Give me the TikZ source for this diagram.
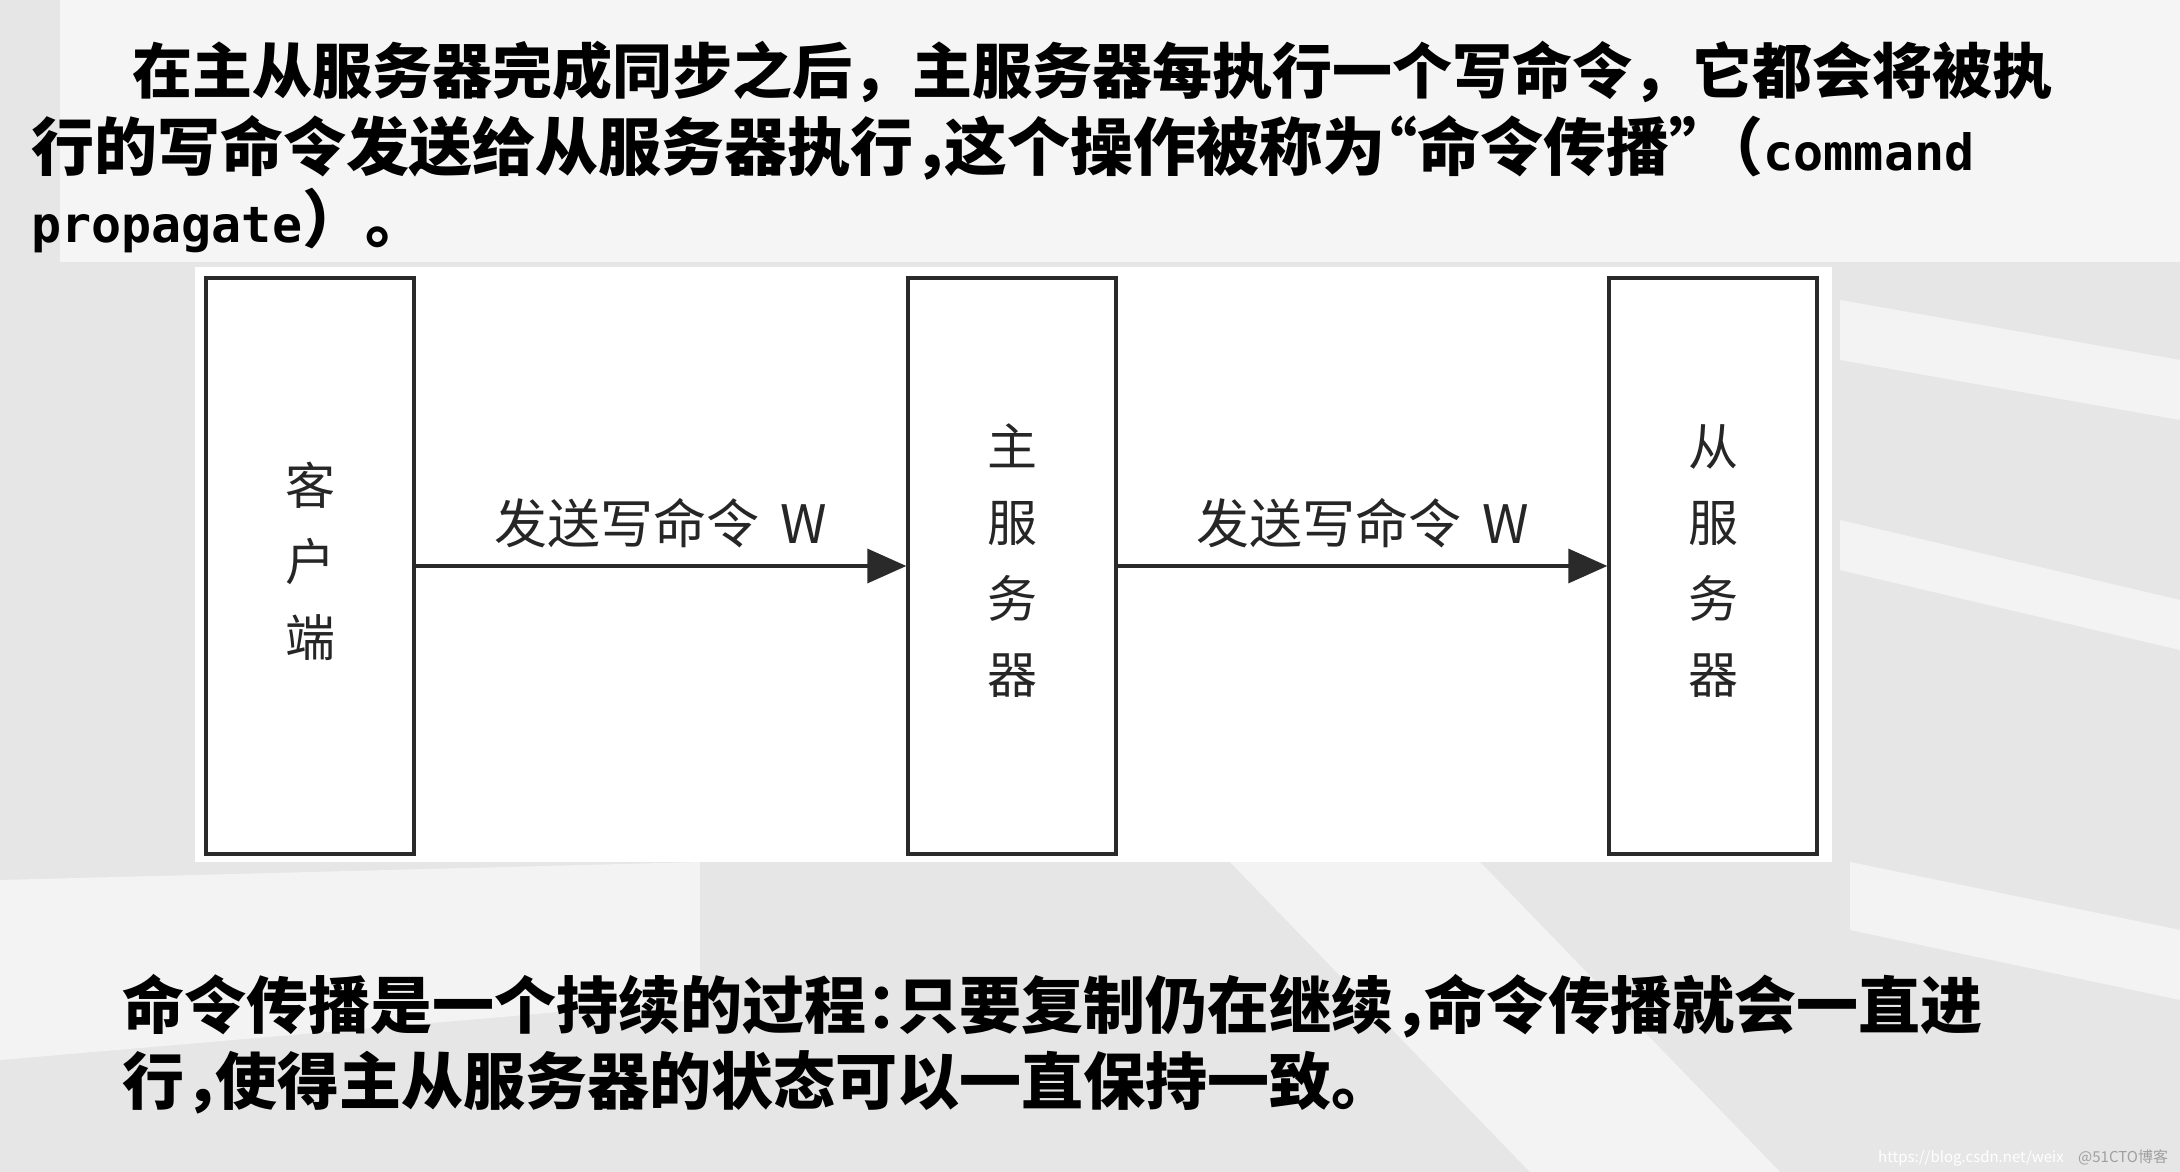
\documentclass[tikz,border=0pt]{standalone}
\usepackage{fontspec}
\newfontfamily\cjk{Noto Sans CJK SC}
\newfontfamily\monofnt{DejaVu Sans Mono}
\usetikzlibrary{arrows.meta}
\newcommand{\hwl}[1]{\makebox[0.5em][l]{#1}}
\newcommand{\hwr}[1]{\makebox[0.5em][r]{#1}}
\newcommand{\fwl}[1]{\makebox[1em][l]{#1}}
\definecolor{bggray}{HTML}{E6E6E6}
\definecolor{lightband}{HTML}{F5F5F5}
\definecolor{boxline}{HTML}{2A2A2A}
\definecolor{lbltext}{HTML}{262626}
\tikzset{
  bodyfirst/.style={anchor=base west, inner sep=0pt, text=black,
    font=\cjk\bfseries\fontsize{60}{76}\selectfont},
  bodytop/.style={anchor=base west, inner sep=0pt, text=black,
    font=\cjk\bfseries\fontsize{63}{76}\selectfont},
  bodybot/.style={anchor=base west, inner sep=0pt, text=black,
    font=\cjk\bfseries\fontsize{62}{76}\selectfont},
  srvbox/.style={draw=boxline, line width=3.3pt, fill=white,
    minimum width=208pt, minimum height=576pt, inner sep=0pt},
  boxlbl/.style={inner sep=0pt, align=center, text=lbltext,
    font=\cjk\fontsize{50}{76}\selectfont},
  flow/.style={draw=boxline, line width=3.3pt,
    -{Triangle[length=39pt,width=34pt]}},
  flowlbl/.style={midway, yshift=43pt, inner sep=0pt, text=lbltext,
    font=\cjk\fontsize{53}{60}\selectfont},
  band/.style={fill=white, opacity=0.55, draw=none},
  wmark/.style={inner sep=0pt, anchor=base west,
    font=\fontsize{15}{18}\selectfont}
}
\begin{document}
\begin{tikzpicture}[x=1pt,y=-1pt]
\useasboundingbox (0,0) rectangle (2180,1172);
% background
\fill[bggray] (0,0) rectangle (2180,1172);
\fill[lightband] (60,0) rectangle (2180,262);
\fill[band] (1230,862) -- (1480,862) -- (1780,1172) -- (1530,1172) -- cycle;
\fill[band] (1840,300) -- (2180,360) -- (2180,420) -- (1840,360) -- cycle;
\fill[band] (1840,520) -- (2180,600) -- (2180,650) -- (1840,570) -- cycle;
\fill[band] (0,880) -- (700,862) -- (700,1000) -- (0,1060) -- cycle;
\fill[band] (1850,862) -- (2180,930) -- (2180,1000) -- (1850,930) -- cycle;
\fill[white] (195,267) rectangle (1832,862);

% top paragraph
\node[bodyfirst] (t1) at (132,93) {在主从服务器完成同步之后\fwl{，}主服务器每执行一个写命令\fwl{，}它都会将被执};
\node[bodytop] (t2) at (31,170) {行的写命令发送给从服务器执行\hwl{，}这个操作被称为\hwr{“}命令传播\hwl{”}\makebox[1em][r]{（}{\monofnt\fontsize{50}{60}\selectfont command}};
\node[bodytop] (t3) at (31,242) {{\monofnt\fontsize{50}{60}\selectfont propagate}\makebox[1em][l]{）}\makebox[1em][l]{。}};

% diagram
\node[srvbox] (client) at (310,566) {};
\node[srvbox] (master) at (1012,566) {};
\node[srvbox] (slave) at (1713,566) {};
\node[boxlbl] (clientl) at ([yshift=5pt]client.center) {客\\户\\端};
\node[boxlbl] (masterl) at ([yshift=5pt]master.center) {主\\服\\务\\器};
\node[boxlbl] (slavel) at ([yshift=5pt]slave.center) {从\\服\\务\\器};
\draw[flow] (client.east) -- node[flowlbl] (l1) {发送写命令\hspace{0.4em}W} (master.west);
\draw[flow] (master.east) -- node[flowlbl] (l2) {发送写命令\hspace{0.4em}W} (slave.west);

% bottom paragraph
\node[bodybot] (b1) at (122,1028) {命令传播是一个持续的过程\hwl{：}只要复制仍在继续\hwl{，}命令传播就会一直进};
\node[bodybot] (b2) at (122,1104) {行\hwl{，}使得主从服务器的状态可以一直保持一致\makebox[1em][l]{。}};

% watermark
\node[wmark, text=white] (w1) at (1878,1162) {\cjk https://blog.csdn.net/weix};
\node[wmark, text=gray!75] (w2) at (2078,1162) {\cjk @51CTO博客};
\end{tikzpicture}
\end{document}
